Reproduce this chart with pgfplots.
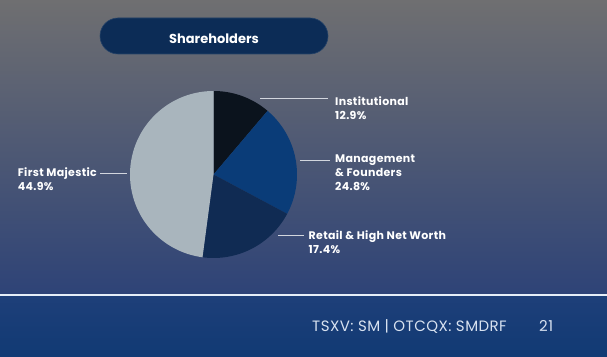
\documentclass[border=0pt]{standalone}
\usepackage{pgfplots}
\pgfplotsset{compat=1.18}
\usepackage{pgfplotstable}
\usepackage{fontspec}
\setmainfont{Poppins}
\newfontfamily\labfont[LetterSpace=3]{Poppins}

\definecolor{bgtop}{HTML}{6F6F71}
\definecolor{bgmid}{HTML}{575B6D}
\definecolor{bgbot}{HTML}{2E4377}
\definecolor{ftop}{HTML}{1E3F79}
\definecolor{fbot}{HTML}{113A74}
\definecolor{fline}{HTML}{E6EEF8}
\definecolor{pill}{HTML}{0C2C56}
\definecolor{pillb}{HTML}{254368}
\definecolor{cInst}{HTML}{0B131D}
\definecolor{cMgmt}{HTML}{0A3C78}
\definecolor{cRet}{HTML}{102B53}
\definecolor{cFM}{HTML}{A9B5BD}
\definecolor{leader}{HTML}{D2D6DE}
\definecolor{foottext}{HTML}{D8E2F0}

% slice sizes (share of the drawn pie, in percent)
\pgfplotstableread{
label value
Institutional 11.2
Management 21.6
Retail 19.3
FirstMajestic 47.9
}\piedata

\begin{document}%
\begin{tikzpicture}[x=1pt,y=1pt]
\pgfplotstablegetelem{0}{value}\of\piedata \let\vA\pgfplotsretval
\pgfplotstablegetelem{1}{value}\of\piedata \let\vB\pgfplotsretval
\pgfplotstablegetelem{2}{value}\of\piedata \let\vC\pgfplotsretval
\pgfplotstablegetelem{3}{value}\of\piedata \let\vD\pgfplotsretval
\pgfmathsetmacro\aA{90-3.6*\vA}
\pgfmathsetmacro\aB{\aA-3.6*\vB}
\pgfmathsetmacro\aC{\aB-3.6*\vC}
\pgfmathsetmacro\aD{\aC-3.6*\vD}
\path[use as bounding box] (0,0) rectangle (607,356);
% background
\shade[top color=bgtop, middle color=bgmid, bottom color=bgbot] (0,62) rectangle (607,356);
\shade[top color=ftop, bottom color=fbot] (0,0) rectangle (607,60);
\fill[fline] (0,60) rectangle (607,62.5);
% title pill
\fill[pill, draw=pillb, line width=0.6pt, rounded corners=18pt] (100,302) rectangle (328,338);
\node[anchor=base, text=white, font=\bfseries\fontsize{13}{15}\selectfont] at (214,312.5) {Shareholders};

\begin{axis}[at={(213.5pt,181.5pt)}, anchor=center, width=167pt, height=167pt,
  scale only axis, hide axis, xmin=-1, xmax=1, ymin=-1, ymax=1, clip=false]
\addplot[fill=cInst, draw=none, domain=\aA:90, samples=60] ({cos(x)},{sin(x)}) -- (0,0) -- cycle;
\addplot[fill=cMgmt, draw=none, domain=\aB:\aA, samples=80] ({cos(x)},{sin(x)}) -- (0,0) -- cycle;
\addplot[fill=cRet, draw=none, domain=\aC:\aB, samples=80] ({cos(x)},{sin(x)}) -- (0,0) -- cycle;
\addplot[fill=cFM, draw=none, domain=\aD:\aC, samples=150] ({cos(x)},{sin(x)}) -- (0,0) -- cycle;
\end{axis}

% leader lines
\draw[leader, line width=1pt] (260,257) -- (327.5,257);
\draw[leader, line width=1pt] (300,195) -- (330,195);
\draw[leader, line width=1pt] (278,120.3) -- (304,120.3);
\draw[leader, line width=1pt] (100,182.7) -- (126.5,182.7);

% labels
\begin{scope}[every node/.style={text=white, font=\labfont\bfseries\fontsize{11}{12}\selectfont, inner sep=0pt}]
\node[anchor=base west] at (335,250.3) {Institutional};
\node[anchor=base west] at (335,236.3) {12.9\%};
\node[anchor=base west] at (335,193) {Management};
\node[anchor=base west] at (335,179) {\& Founders};
\node[anchor=base west] at (335,165) {24.8\%};
\node[anchor=base west] at (308.5,116) {Retail \& High Net Worth};
\node[anchor=base west] at (308.5,102.3) {17.4\%};
\node[anchor=base west] at (17.7,179.3) {First Majestic};
\node[anchor=base west] at (17.7,165.3) {44.9\%};
\end{scope}

% footer text
\node[anchor=base west, inner sep=0pt, text=foottext, font=\labfont\fontsize{15}{17}\selectfont] at (312,24.5) {TSXV: SM | OTCQX: SMDRF};
\node[anchor=base west, inner sep=0pt, text=foottext, font=\labfont\fontsize{15}{17}\selectfont] at (539,24.5) {21};
\end{tikzpicture}%
\end{document}
